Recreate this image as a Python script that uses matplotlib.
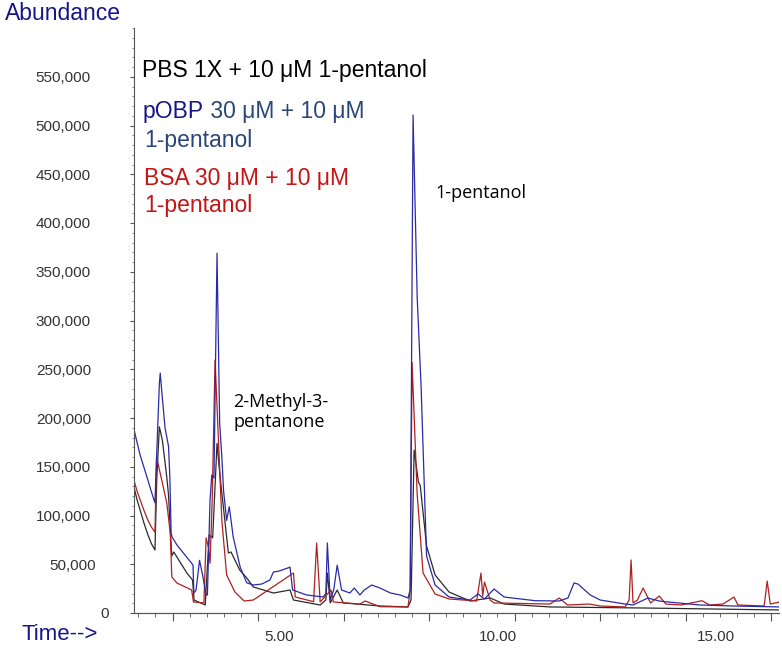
import numpy as np
import matplotlib
matplotlib.use("Agg")
import matplotlib.pyplot as plt
from matplotlib.ticker import FuncFormatter, MultipleLocator
from matplotlib.transforms import ScaledTranslation

# retention time (min) / abundance (x1000)
pobp_time = [1.68, 1.75, 1.82, 1.91, 2.00, 2.08, 2.16, 2.18, 2.26, 2.28, 2.33, 2.39,
             2.47, 2.50, 2.53, 2.55, 2.66, 2.89, 3.00, 3.03, 3.05, 3.10, 3.18, 3.25,
             3.33, 3.36, 3.42, 3.46, 3.51, 3.58, 3.64, 3.69, 3.73, 3.80, 3.86, 3.95,
             4.11, 4.26, 4.41, 4.60, 4.79, 4.87, 5.00, 5.25, 5.31, 5.63, 6.01, 6.07,
             6.105, 6.17, 6.25, 6.33, 6.43, 6.62, 6.72, 6.85, 6.95, 7.12, 7.31, 7.55,
             7.77, 7.95, 8.00, 8.066, 8.16, 8.25, 8.375, 8.57, 8.89, 9.37, 9.55, 9.70,
             9.92, 10.15, 10.86, 11.41, 11.61, 11.75, 11.84, 12.12, 12.35, 12.92, 13.10,
             13.44, 13.70, 13.90, 14.63, 15.40, 16.46]
pobp_abund = [188, 175, 162, 149, 136, 124, 113, 140, 235, 246, 220, 190,
              171, 140, 82, 78, 70, 57, 51, 49, 20.5, 23.6, 54, 39,
              18.5, 18.5, 116, 141.5, 138.5, 369, 195, 160, 125, 95, 109, 78,
              47, 31, 28.7, 29.7, 33.8, 42, 43, 47, 23.6, 18.5, 16.4, 20,
              71.8, 13.3, 23.6, 49, 23.6, 20.5, 25.6, 18.5, 23.6, 28.7, 25.6, 20.5,
              18.5, 15.4, 23.6, 510.7, 324, 232, 58.5, 28.7, 16.4, 13.3, 19.5, 14.4,
              24.6, 16.4, 12.6, 12.3, 15.4, 30.8, 29.7, 18.5, 13.3, 9.2, 8.2,
              15.4, 12.3, 11.3, 8.2, 7.2, 6.2]

pbs_time = [1.68, 1.75, 1.82, 1.91, 2.00, 2.08, 2.16, 2.20, 2.26, 2.33, 2.43, 2.47,
            2.51, 2.545, 2.59, 2.89, 3.02, 3.055, 3.31, 3.40, 3.48, 3.58, 3.65, 3.84,
            3.90, 4.10, 4.26, 4.41, 4.87, 5.25, 5.33, 5.94, 6.07, 6.105, 6.17, 6.33,
            6.47, 7.31, 7.95, 8.02, 8.09, 8.19, 8.23, 8.375, 8.57, 8.89, 9.37, 9.83,
            10.15, 11.20, 13.40, 16.46]
pbs_abund = [129, 116, 105.6, 92, 80, 71, 64.6, 136, 191, 177, 139.5, 121,
             85, 58.5, 62.6, 41, 33.8, 13.3, 8.2, 80, 77, 174, 139.5, 61.5,
             62.6, 44, 36, 26.7, 20.5, 23.6, 13.3, 8.2, 13.3, 41, 10.3, 23.6,
             10.3, 7.2, 6.2, 13.3, 167, 134, 131, 68.7, 39, 21.5, 12.3, 15.4,
             9.2, 6.2, 5.1, 3.1]

bsa_time = [1.68, 1.75, 1.82, 1.91, 2.00, 2.08, 2.16, 2.197, 2.43, 2.51, 2.545, 2.66,
            3.00, 3.04, 3.28, 3.33, 3.38, 3.42, 3.47, 3.535, 3.69, 3.80, 3.99, 4.20,
            4.41, 5.33, 5.37, 5.79, 5.86, 5.94, 6.19, 6.24, 6.85, 6.97, 7.31, 7.95,
            8.00, 8.043, 8.16, 8.295, 8.57, 8.89, 9.52, 9.62, 9.66, 9.70, 9.83, 9.92,
            11.20, 11.41, 11.60, 12.10, 12.35, 12.92, 13.01, 13.055, 13.10, 13.20, 13.33,
            13.50, 13.70, 13.85, 14.20, 14.68, 14.85, 15.16, 15.41, 15.50, 16.10, 16.17,
            16.24, 16.46]
bsa_abund = [136, 125, 116, 105, 95, 88, 83, 160, 113, 82, 37, 30.8,
             23.6, 11.3, 10.3, 77, 68, 51, 116, 259.5, 95, 39, 21.5, 12.3,
             13.3, 41, 16.4, 11.6, 71.8, 11.3, 23.6, 11.3, 9.2, 12.3, 6.5, 6.2,
             23.6, 257, 122, 41, 19.5, 14.4, 12.3, 41, 17.4, 31.8, 13.3, 10.3,
             9.2, 15.4, 8.2, 9.2, 7.2, 6.2, 13.3, 54.4, 10.3, 13.3, 25.6,
             10.3, 17.4, 9.2, 8.2, 12.6, 8.2, 9.2, 16.4, 8.2, 7.2, 32.8,
             9.2, 11.3]

y_ticks = [0, 50000, 100000, 150000, 200000, 250000, 300000, 350000, 400000, 450000,
           500000, 550000]
x_labels = ["5.00", "10.00", "15.00"]
x_label_pos = [5, 10, 15]

NAVY = "#15158c"
SLATE = "#2a4676"
RED = "#c41414"

fig = plt.figure(figsize=(7.82, 6.48), dpi=100)
ax = fig.add_axes([134 / 782, 35 / 648, 645 / 782, 585 / 648])

ax.plot(pbs_time, np.array(pbs_abund) * 1000, color="#2b2b2b", lw=0.9)
ax.plot(bsa_time, np.array(bsa_abund) * 1000, color="#b02020", lw=0.9)
ax.plot(pobp_time, np.array(pobp_abund) * 1000, color="#2a2aa8", lw=0.9)

ax.set_xlim(1.68, 16.44)
ax.set_ylim(0, 600000)

for s in ["top", "right"]:
    ax.spines[s].set_visible(False)
for s in ["left", "bottom"]:
    ax.spines[s].set_color("#555555")
    ax.spines[s].set_linewidth(0.8)

ax.set_yticks(y_ticks)
ax.yaxis.set_major_formatter(FuncFormatter(lambda v, p: f"{int(v):,}"))
ax.yaxis.set_minor_locator(MultipleLocator(10000))
ax.tick_params(axis="y", which="major", length=3, color="#555555", pad=28,
               labelsize=11, labelcolor="#333333")
ax.tick_params(axis="y", which="minor", length=1.5, color="#777777")

ax.set_xticks(x_label_pos, x_labels)
ax.tick_params(axis="x", which="major", length=0, pad=12, labelsize=11,
               labelcolor="#333333")
for lab in ax.get_xticklabels() + ax.get_yticklabels():
    lab.set_fontfamily("Liberation Sans")

# the two lowest labels sit further right in the original
shifts = {"0": 18, "50,000": 5}
for lab in ax.get_yticklabels():
    dx = shifts.get(lab.get_text())
    if dx:
        lab.set_transform(lab.get_transform() + ScaledTranslation(dx / 100, 0, fig.dpi_scale_trans))

# tick marks of the time axis (not aligned with the labels in the original)
tick_start, tick_step = 1.78, 0.3913
tick_marks = tick_start + tick_step * np.arange(38)
tick_marks = tick_marks[tick_marks < 16.44]
sec = ax.secondary_xaxis("bottom")
sec.set_xticks(tick_marks[2::5], labels=[])
sec.set_xticks(tick_marks, minor=True)
sec.tick_params(which="major", length=6, color="#555555")
sec.tick_params(which="minor", length=3, color="#555555")
sec.spines["bottom"].set_color("#555555")
sec.spines["bottom"].set_linewidth(0.8)


def fx(px):
    return px / 782


def fy(py):
    return 1 - py / 648


big = dict(fontfamily="Liberation Sans", fontsize=16.5, va="baseline", ha="left")
fig.text(fx(5), fy(19.5), "Abundance", color=NAVY, **big)
fig.text(fx(22), fy(640), "Time-->", color=NAVY, fontfamily="Liberation Sans",
         fontsize=16, va="baseline", ha="left")

fig.text(fx(142), fy(77.5), "PBS 1X + 10 \u03bcM 1-pentanol", color="black", **big)
t = fig.text(fx(143), fy(118.3), "pOBP", color=NAVY, **big)
ax.annotate(" 30 \u03bcM + 10 \u03bcM", xy=(1, 0), xycoords=t, color=SLATE,
            fontfamily="Liberation Sans", fontsize=16.5, va="bottom", ha="left")
fig.text(fx(144), fy(147.3), "1-pentanol", color=SLATE, **big)
fig.text(fx(144), fy(185), "BSA 30 \u03bcM + 10 \u03bcM", color=RED, **big)
fig.text(fx(144), fy(212.3), "1-pentanol", color=RED, **big)

small = dict(fontfamily="Open Sans", fontsize=13, va="baseline", ha="left",
             color="black")
fig.text(fx(435), fy(197.5), "1-pentanol", **small)
fig.text(fx(233), fy(407), "2-Methyl-3-", **small)
fig.text(fx(233), fy(427), "pentanone", **small)

fig.savefig("out.png", dpi=100)
